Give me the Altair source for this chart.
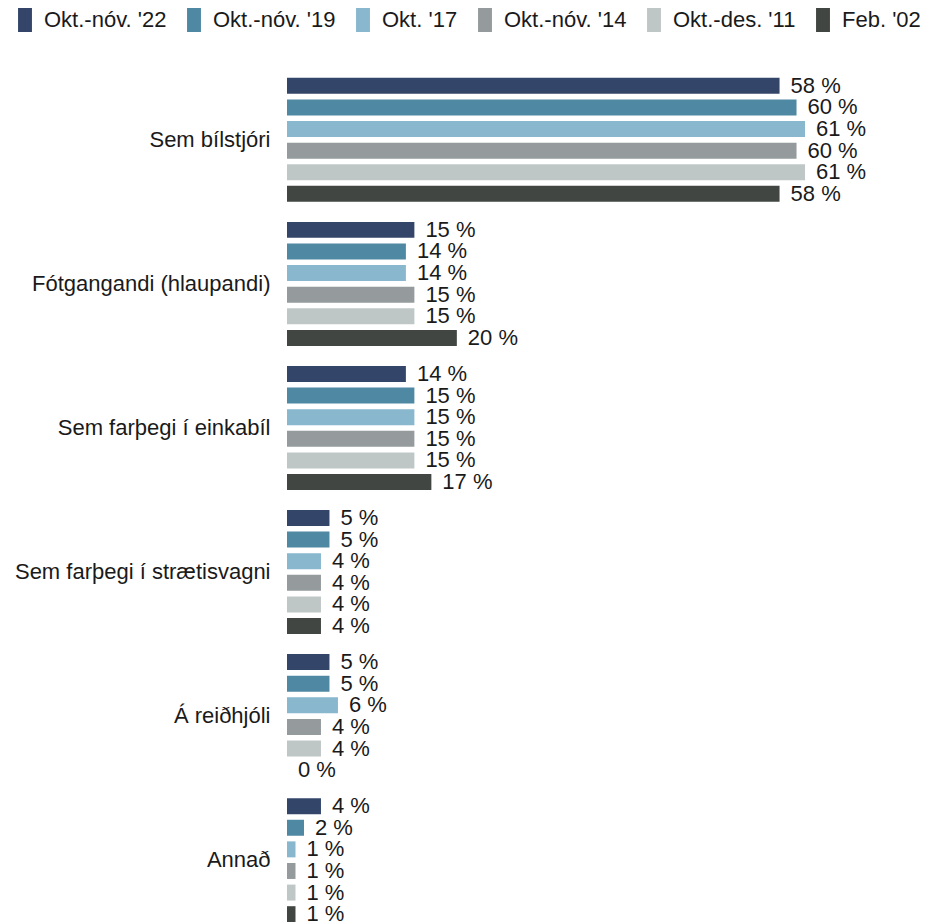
import altair as alt
import pandas as pd

categories = ["Sem bílstjóri", "Fótgangandi (hlaupandi)", "Sem farþegi í einkabíl",
              "Sem farþegi í strætisvagni", "Á reiðhjóli", "Annað"]
series = ["Okt.-nóv. '22", "Okt.-nóv. '19", "Okt. '17", "Okt.-nóv. '14", "Okt.-des. '11", "Feb. '02"]
colors = ["#33466a", "#4f88a3", "#88b7ce", "#959b9c", "#bfc7c6", "#414642"]

v22 = [58, 15, 14, 5, 5, 4]
v19 = [60, 14, 15, 5, 5, 2]
v17 = [61, 14, 15, 4, 6, 1]
v14 = [60, 15, 15, 4, 4, 1]
v11 = [61, 15, 15, 4, 4, 1]
v02 = [58, 20, 17, 4, 0, 1]

all_values = [v22, v19, v17, v14, v11, v02]
rows = []
for s, vals in zip(series, all_values):
    for c, v in zip(categories, vals):
        rows.append({"cat": c, "series": s, "value": v, "label": f"{v} %"})
df = pd.DataFrame(rows)

FONT = "Liberation Sans"

y_enc = alt.Y("cat:N", sort=categories, title=None,
              scale=alt.Scale(paddingInner=0.1, paddingOuter=0),
              axis=alt.Axis(domain=False, ticks=False, labelFontSize=22, labelFont=FONT,
                            labelColor="#1a1a1a", labelPadding=17, labelLimit=400))
yoff_enc = alt.YOffset("series:N", sort=series,
                       scale=alt.Scale(paddingInner=0.26, paddingOuter=0.13))
x_enc = alt.X("value:Q", scale=alt.Scale(domain=[0, 65], nice=False), axis=None)

bars = alt.Chart(df).mark_bar().encode(
    x=x_enc,
    y=y_enc,
    yOffset=yoff_enc,
    color=alt.Color("series:N", sort=series,
                    scale=alt.Scale(domain=series, range=colors),
                    legend=alt.Legend(title=None, orient="none", legendX=-274, legendY=-67,
                                      direction="horizontal",
                                      symbolType="M-0.58,-1h1.16v2h-1.16z", symbolSize=576,
                                      symbolStrokeWidth=0, symbolOpacity=1,
                                      labelFontSize=22, labelFont=FONT, labelColor="#1a1a1a",
                                      labelOffset=7, columnPadding=15, padding=0,
                                      labelLimit=400)),
)

texts = alt.Chart(df).mark_text(align="left", baseline="middle", dx=11, fontSize=22,
                                font=FONT, color="#1a1a1a").encode(
    x=x_enc,
    y=y_enc,
    yOffset=yoff_enc,
    text="label:N",
)

chart = alt.layer(bars, texts).properties(
    width=552, height=850,
    autosize=alt.AutoSizeParams(type="none"),
    padding={"left": 279, "top": 67, "right": 83, "bottom": 0},
).configure_view(stroke=None)

chart.save("out.html", embed_options={"renderer": "svg", "actions": False})
